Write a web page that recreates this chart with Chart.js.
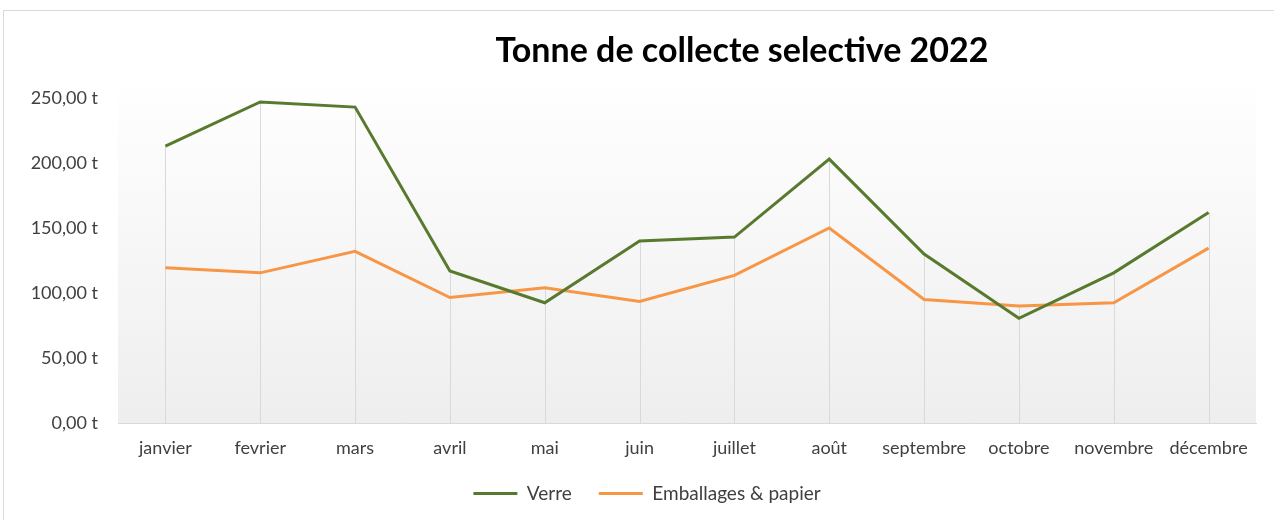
<!DOCTYPE html>
<html>
<head>
<meta charset="utf-8">
<script src="https://cdn.jsdelivr.net/npm/chart.js@4"></script>
<style>
  html, body { margin: 0; padding: 0; background: #fff; }
  #wrap { width: 1274px; height: 520px; position: relative; }
</style>
</head>
<body>
<div id="wrap"><canvas id="collecteChart"></canvas></div>
<script>
const months = ['janvier', 'fevrier', 'mars', 'avril', 'mai', 'juin', 'juillet', 'août', 'septembre', 'octobre', 'novembre', 'décembre'];
const verre = [213, 247, 243, 117, 92.5, 140, 143, 203, 130, 80.5, 115.5, 162];
const emballages = [119.5, 115.5, 132, 96.5, 104, 93.5, 113.5, 150, 95, 90, 92.5, 134.5];
const yTicks = [0, 50, 100, 150, 200, 250];

const textColor = '#404040';
const fontFamily = 'Lato, "Noto Sans", sans-serif';

// plot area gradient + drop lines between the series
const plotDeco = {
  id: 'plotDeco',
  afterLayout(chart) {
    // legend sits a bit right of the plot centre in the original
    chart.legend.left += 19;
    chart.legend.right += 19;
  },
  beforeDatasetsDraw(chart) {
    const { ctx, chartArea: a, scales } = chart;
    ctx.save();
    const g = ctx.createLinearGradient(0, a.top - 20, 0, a.bottom);
    g.addColorStop(0, '#ffffff');
    g.addColorStop(1, '#eeeeee');
    ctx.fillStyle = g;
    ctx.fillRect(a.left, a.top - 20, a.right - a.left, a.bottom - a.top + 20);

    ctx.strokeStyle = '#d9d9d9';
    ctx.lineWidth = 1;
    months.forEach((m, i) => {
      const x = Math.round(scales.x.getPixelForValue(i)) + 0.5;
      const top = scales.y.getPixelForValue(Math.max(verre[i], emballages[i]));
      ctx.beginPath();
      ctx.moveTo(x, top);
      ctx.lineTo(x, a.bottom);
      ctx.stroke();
    });
    ctx.restore();
  },
  afterDraw(chart) {
    const { ctx } = chart;
    ctx.save();
    ctx.fillStyle = '#000';
    ctx.font = 'bold 34px ' + fontFamily;
    ctx.textAlign = 'center';
    ctx.textBaseline = 'alphabetic';
    ctx.fillText('Tonne de collecte selective 2022', 742, 62);
    // outer chart frame
    ctx.strokeStyle = '#d9d9d9';
    ctx.lineWidth = 1;
    ctx.strokeRect(3.5, 10.5, 1290, 530);
    ctx.restore();
  }
};

new Chart(document.getElementById('collecteChart'), {
  type: 'line',
  data: {
    labels: months,
    datasets: [
      { label: 'Verre', data: verre, borderColor: '#587a2e', backgroundColor: '#587a2e', borderWidth: 3, pointRadius: 0, tension: 0 },
      { label: 'Emballages & papier', data: emballages, borderColor: '#f79646', backgroundColor: '#f79646', borderWidth: 3, pointRadius: 0, tension: 0 }
    ]
  },
  options: {
    responsive: true,
    maintainAspectRatio: false,
    animation: false,
    layout: { padding: { top: 98, right: 18, bottom: 7, left: 0 } },
    plugins: {
      tooltip: { enabled: false },
      legend: {
        position: 'bottom',
        labels: {
          usePointStyle: true,
          pointStyle: 'line',
          pointStyleWidth: 44,
          padding: 27,
          color: textColor,
          font: { family: fontFamily, size: 19 }
        }
      }
    },
    scales: {
      x: {
        offset: true,
        grid: { display: false, drawTicks: false },
        border: { display: true, color: '#d9d9d9', width: 1 },
        ticks: { color: textColor, padding: 14, maxRotation: 0, autoSkip: false, font: { family: fontFamily, size: 18 } },
        afterFit(s) { s.height = 34; }
      },
      y: {
        min: 0,
        max: 250,
        grid: { display: false, drawTicks: false },
        border: { display: false },
        afterBuildTicks(s) { s.ticks = yTicks.map(v => ({ value: v })); },
        ticks: {
          color: textColor,
          padding: 20,
          font: { family: fontFamily, size: 18 },
          callback: v => v.toFixed(2).replace('.', ',') + ' t'
        },
        afterFit(s) { s.width = 118; }
      }
    }
  },
  plugins: [plotDeco]
});
</script>
</body>
</html>
